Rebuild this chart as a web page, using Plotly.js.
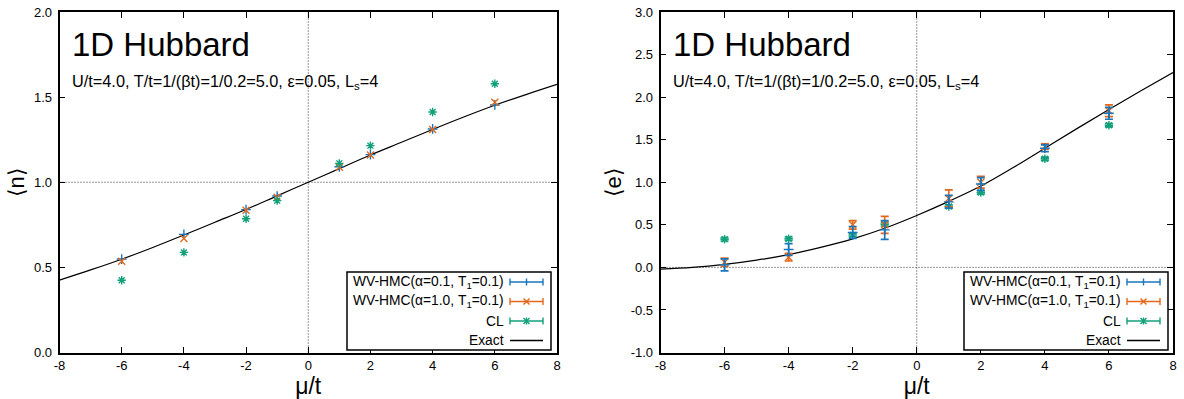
<!DOCTYPE html>
<html><head><meta charset="utf-8">
<script src="https://cdn.plot.ly/plotly-3.0.1.min.js"></script>
<style>html,body{margin:0;padding:0;background:#fff}#chart{width:1184px;height:399px}</style>
</head><body><div id="chart"></div>
<script>
// ---- data ----
const mu = [-6, -4, -2, -1, 1, 2, 4, 6];
const nWV01 = [0.549, 0.694, 0.839, 0.919, 1.091, 1.162, 1.313, 1.454];
const nWV10 = [0.536, 0.669, 0.835, 0.912, 1.088, 1.160, 1.310, 1.470];
const nCL   = [0.424, 0.588, 0.786, 0.892, 1.111, 1.215, 1.413, 1.579];
const muExact = [-8, -7, -6, -5, -4, -3, -2, -1, 0, 1, 2, 3, 4, 5, 6, 7, 8];
const nExact  = [0.425, 0.485, 0.548, 0.617, 0.690, 0.765, 0.840, 0.920, 1.000, 1.080, 1.160, 1.235, 1.310, 1.383, 1.452, 1.515, 1.575];
const eWV01    = [0.03, 0.21, 0.41, 0.44, 0.77, 0.98, 1.40, 1.81];
const eWV01Err = [0.07, 0.07, 0.07, 0.11, 0.075, 0.075, 0.04, 0.07];
const eWV10    = [0.06, 0.12, 0.50, 0.50, 0.81, 1.00, 1.42, 1.84];
const eWV10Err = [0.05, 0.045, 0.05, 0.10, 0.10, 0.07, 0.03, 0.07];
const eCL      = [0.33, 0.337, 0.38, 0.506, 0.715, 0.88, 1.276, 1.67];
const eCLErr   = [0.02, 0.02, 0.02, 0.02, 0.02, 0.02, 0.02, 0.02];
const eExact   = [-0.02, 0.0, 0.035, 0.085, 0.15, 0.235, 0.335, 0.46, 0.61, 0.775, 0.955, 1.17, 1.40, 1.63, 1.855, 2.075, 2.29];
const xTicks = [-8, -6, -4, -2, 0, 2, 4, 6, 8];
const nTicks = [0, 0.5, 1.0, 1.5, 2.0];
const eTicks = [-1.0, -0.5, 0, 0.5, 1.0, 1.5, 2.0, 2.5, 3.0];
const seriesNames = ['WV-HMC(α=0.1, T<sub>1</sub>=0.1)', 'WV-HMC(α=1.0, T<sub>1</sub>=0.1)', 'CL', 'Exact'];

// ---- style ----
const W = 1184, H = 399;
const FONT = 'Liberation Sans, Arial, sans-serif';
const BLUE = '#1a76bb', ORANGE = '#e4681c', GREEN = '#12a07a';
const COLORS = [BLUE, ORANGE, GREEN, '#000'];
const SYMBOLS = ['cross-thin-open', 'x-thin-open', 'asterisk-open'];
const px = x => x / W, py = y => 1 - y / H;

function pts(x, y, k, xa, ya, err) {
  const t = {x: x, y: y, mode: 'markers', type: 'scatter', xaxis: xa, yaxis: ya, showlegend: false,
    marker: {symbol: SYMBOLS[k], size: 7, color: COLORS[k], line: {width: 1.4, color: COLORS[k]}}};
  if (err) t.error_y = {type: 'data', array: err, visible: true, color: COLORS[k], thickness: 1.7, width: 4};
  return t;
}
function exact(x, y, xa, ya) {
  return {x: x, y: y, mode: 'lines', type: 'scatter', xaxis: xa, yaxis: ya, showlegend: false,
    line: {color: '#000', width: 1.2, shape: 'spline'}};
}
const data = [
  exact(muExact, nExact, 'x', 'y'),
  pts(mu, nWV01, 0, 'x', 'y'), pts(mu, nWV10, 1, 'x', 'y'), pts(mu, nCL, 2, 'x', 'y'),
  exact(muExact, eExact, 'x2', 'y2'),
  pts(mu, eCL, 2, 'x2', 'y2', eCLErr), pts(mu, eWV10, 1, 'x2', 'y2', eWV10Err), pts(mu, eWV01, 0, 'x2', 'y2', eWV01Err)
];

const yDom = [py(352.5), py(12)];
function xax(dom, anchor) {
  return {domain: dom, anchor: anchor, range: [-8, 8], tickvals: xTicks, ticktext: xTicks.map(String),
    ticks: 'inside', ticklen: 6, tickwidth: 1, tickcolor: '#000', mirror: 'allticks', showline: true,
    linecolor: '#000', linewidth: 1.6, showgrid: false, zeroline: false,
    tickfont: {family: FONT, size: 13, color: '#000'},
    title: {text: 'μ/t', font: {family: FONT, size: 23, color: '#000'}, standoff: 4}};
}
function yax(range, ticks, anchor, label) {
  return {domain: yDom, anchor: anchor, range: range, tickvals: ticks, ticktext: ticks.map(v => v.toFixed(1)),
    ticks: 'inside', ticklen: 6, tickwidth: 1, tickcolor: '#000', mirror: 'allticks', showline: true,
    linecolor: '#000', linewidth: 1.6, showgrid: false, zeroline: false, ticklabelstandoff: 3,
    tickfont: {family: FONT, size: 13, color: '#000'},
    title: {text: label, font: {family: FONT, size: 22, color: '#000'}, standoff: 3}};
}

const shapes = [];
const annotations = [];
function dotted(xa, ya, hy) {
  shapes.push({type: 'line', xref: xa, yref: ya + ' domain', x0: 0, x1: 0, y0: 0, y1: 1,
    line: {color: '#333', width: 1, dash: '1px,2px'}, layer: 'below'});
  shapes.push({type: 'line', xref: xa + ' domain', yref: ya, x0: 0, x1: 1, y0: hy, y1: hy,
    line: {color: '#333', width: 1, dash: '1px,2px'}, layer: 'below'});
}
dotted('x', 'y', 1.0);
dotted('x2', 'y2', 0.0);

function titles(xl) {
  annotations.push({xref: 'paper', yref: 'paper', x: px(xl), y: py(45), xanchor: 'left', yanchor: 'middle',
    text: '1D Hubbard', showarrow: false, font: {family: FONT, size: 33, color: '#000'}});
  annotations.push({xref: 'paper', yref: 'paper', x: px(xl), y: py(82), xanchor: 'left', yanchor: 'middle',
    text: 'U/t=4.0, T/t=1/(βt)=1/0.2=5.0, ε=0.05, L<sub>s</sub>=4', showarrow: false,
    font: {family: FONT, size: 16.3, color: '#000'}});
}
titles(70); titles(671);

function seg(x0, y0, x1, y1, c, w) {
  shapes.push({type: 'line', xref: 'paper', yref: 'paper', x0: px(x0), y0: py(y0), x1: px(x1), y1: py(y1),
    line: {color: c, width: w}});
}
function legendBox(R) {
  const L = R - 204, T = 272, B = 350;
  shapes.push({type: 'rect', xref: 'paper', yref: 'paper', x0: px(L), x1: px(R), y0: py(B), y1: py(T),
    line: {color: '#000', width: 1.5}, fillcolor: '#fff'});
  const rows = [282, 301.5, 321, 340.5];
  seriesNames.forEach((name, k) => {
    const y = rows[k], c = COLORS[k];
    annotations.push({xref: 'paper', yref: 'paper', x: px(R - 45), y: py(y), xanchor: 'right', yanchor: 'middle',
      text: name, showarrow: false, font: {family: FONT, size: 13.8, color: '#000'}});
    const a = R - 41, b = R - 8, m = (a + b) / 2;
    seg(a, y, b, y, c, 1.4);
    if (k < 3) {
      seg(a, y - 3.5, a, y + 3.5, c, 1.4);
      seg(b, y - 3.5, b, y + 3.5, c, 1.4);
      if (k === 0 || k === 2) { seg(m, y - 3.5, m, y + 3.5, c, 1.4); }
      if (k === 1 || k === 2) { seg(m - 3, y - 3, m + 3, y + 3, c, 1.4); seg(m - 3, y + 3, m + 3, y - 3, c, 1.4); }
    }
  });
}
legendBox(551);
legendBox(1168);

const layout = {
  width: W, height: H, margin: {l: 0, r: 0, t: 0, b: 0}, paper_bgcolor: '#fff', plot_bgcolor: '#fff',
  showlegend: false,
  xaxis: xax([px(59.5), px(557)], 'y'),
  yaxis: yax([0, 2], nTicks, 'x', '⟨n⟩'),
  xaxis2: xax([px(660.5), px(1173)], 'y2'),
  yaxis2: yax([-1, 3], eTicks, 'x2', '⟨e⟩'),
  shapes: shapes, annotations: annotations
};
Plotly.newPlot('chart', data, layout, {displayModeBar: false});
</script></body></html>
